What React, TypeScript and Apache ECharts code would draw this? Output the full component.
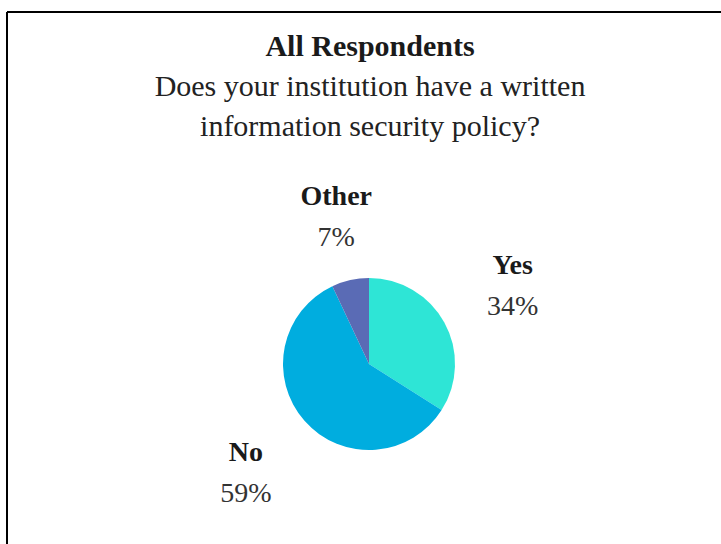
import React, { useEffect, useRef } from 'react';
import * as echarts from 'echarts';

const categories = ['Yes', 'No', 'Other'];
const values = [34, 59, 7];
const colors = ['#2EE5D6', '#00ADDF', '#5A6BB5'];
const titleText = 'All Respondents';
const subtitleLines = ['Does your institution have a written', 'information security policy?'];

const FONT = "'Liberation Serif', 'Times New Roman', serif";

export default function App() {
  const ref = useRef<HTMLDivElement>(null);
  useEffect(() => {
    const chart = echarts.init(ref.current as HTMLDivElement, null, { renderer: 'svg' });
    const data = categories.map((name, i) => ({
      name,
      value: values[i],
      itemStyle: { color: colors[i] },
    }));
    const labelData = categories.map((name, i) => ({
      name,
      value: values[i],
      itemStyle: { color: 'rgba(0,0,0,0)' },
    }));
    chart.setOption({
      animation: false,
      backgroundColor: '#ffffff',
      graphic: [
        {
          type: 'line',
          shape: { x1: 7, y1: 12, x2: 760, y2: 12 },
          style: { stroke: '#000', lineWidth: 2 },
          silent: true,
        },
        {
          type: 'line',
          shape: { x1: 7, y1: 12, x2: 7, y2: 600 },
          style: { stroke: '#000', lineWidth: 2 },
          silent: true,
        },
        {
          type: 'text',
          x: 370,
          y: 25,
          style: {
            text: titleText,
            fontFamily: FONT,
            fontSize: 30,
            fontWeight: 'bold',
            fill: '#1a1a1a',
            align: 'center',
            verticalAlign: 'top',
            lineHeight: 40,
          },
          silent: true,
        },
        {
          type: 'text',
          x: 370,
          y: 65,
          style: {
            text: subtitleLines.join('\n'),
            fontFamily: FONT,
            fontSize: 30,
            fill: '#222',
            align: 'center',
            verticalAlign: 'top',
            lineHeight: 40,
          },
          silent: true,
        },
      ],
      series: [
        {
          type: 'pie',
          center: [369, 364],
          radius: [0, 86],
          startAngle: 90,
          clockwise: true,
          silent: true,
          data,
          label: { show: false },
          labelLine: { show: false },
          emphasis: { disabled: true },
        },
        {
          type: 'pie',
          center: [369, 364],
          radius: [146, 176],
          startAngle: 90,
          clockwise: true,
          silent: true,
          data: labelData,
          emphasis: { disabled: true },
          labelLine: { show: false },
          labelLayout: (p: any) => (p.dataIndex === 2 ? { dx: 3, dy: 12 } : {}),
          label: {
            show: true,
            position: 'inside',
            formatter: '{n|{b}}\n{v|{c}%}',
            rich: {
              n: {
                fontFamily: FONT,
                fontSize: 28,
                fontWeight: 'bold',
                color: '#1a1a1a',
                lineHeight: 41,
                align: 'center',
              },
              v: {
                fontFamily: FONT,
                fontSize: 28,
                color: '#333',
                lineHeight: 41,
                align: 'center',
              },
            },
          },
        },
      ],
    });
    return () => chart.dispose();
  }, []);
  return (
    <div
      ref={ref}
      style={{ position: 'fixed', left: 0, top: 0, width: 721, height: 544 }}
    />
  );
}
